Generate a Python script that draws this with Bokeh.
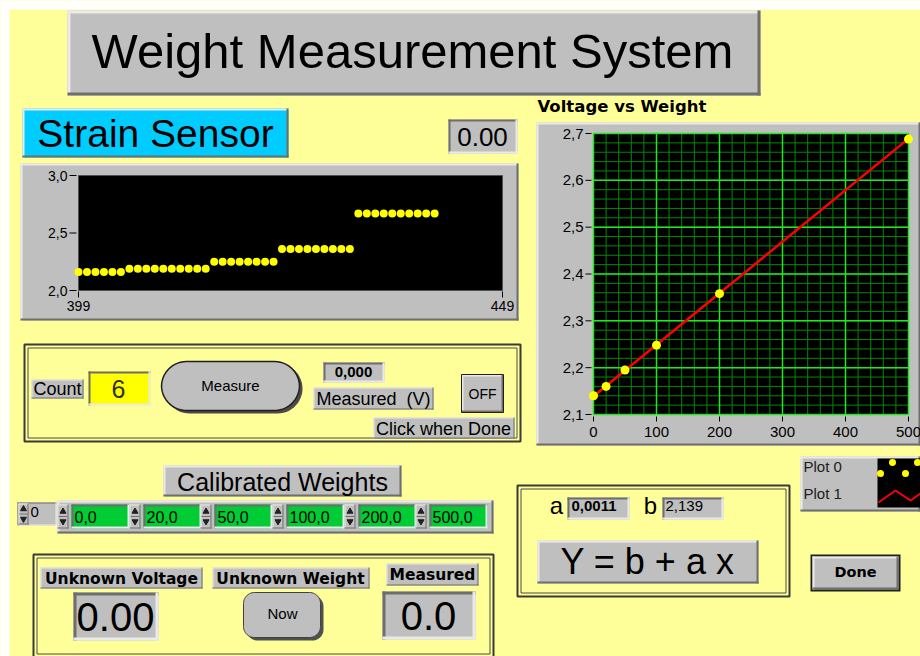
import numpy as np
from bokeh.plotting import figure
from bokeh.models import Range1d
from bokeh.core.properties import value
from bokeh.embed import file_html
from bokeh.resources import INLINE

# ---------------- data ----------------
strain_sample = [399, 400, 401, 402, 403, 404,
                 405, 406, 407, 408, 409, 410, 411, 412, 413, 414,
                 415, 416, 417, 418, 419, 420, 421, 422,
                 423, 424, 425, 426, 427, 428, 429, 430, 431,
                 432, 433, 434, 435, 436, 437, 438, 439, 440, 441]
strain_volts = [2.16, 2.16, 2.16, 2.16, 2.16, 2.16,
                2.19, 2.19, 2.19, 2.19, 2.19, 2.19, 2.19, 2.19, 2.19, 2.19,
                2.25, 2.25, 2.25, 2.25, 2.25, 2.25, 2.25, 2.25,
                2.36, 2.36, 2.36, 2.36, 2.36, 2.36, 2.36, 2.36, 2.36,
                2.67, 2.67, 2.67, 2.67, 2.67, 2.67, 2.67, 2.67, 2.67, 2.67]
strain_xticks = [399, 449]
strain_xlabels = ["399", "449"]
strain_yticks = [2.0, 2.5, 3.0]
strain_ylabels = ["2,0", "2,5", "3,0"]

calib_weights = [0, 20, 50, 100, 200, 500]
calib_volts = [2.14, 2.16, 2.195, 2.248, 2.358, 2.688]
fit_weights = [0, 500]
fit_volts = [2.139, 2.689]
vw_xticks = [0, 100, 200, 300, 400, 500]
vw_xlabels = ["0", "100", "200", "300", "400", "500"]
vw_yticks = [2.1, 2.2, 2.3, 2.4, 2.5, 2.6, 2.7]
vw_ylabels = ["2,1", "2,2", "2,3", "2,4", "2,5", "2,6", "2,7"]
vw_xminor = [0, 20, 40, 60, 80, 100, 120, 140, 160, 180, 200, 220, 240, 260,
             280, 300, 320, 340, 360, 380, 400, 420, 440, 460, 480, 500]
vw_yminor = [2.1, 2.12, 2.14, 2.16, 2.18, 2.2, 2.22, 2.24, 2.26, 2.28, 2.3,
             2.32, 2.34, 2.36, 2.38, 2.4, 2.42, 2.44, 2.46, 2.48, 2.5, 2.52,
             2.54, 2.56, 2.58, 2.6, 2.62, 2.64, 2.66, 2.68, 2.7]

weight_labels = ["0,0", "20,0", "50,0", "100,0", "200,0", "500,0"]
coef_a = "0,0011"
coef_b = "2,139"
count_value = "6"

# ---------------- style ----------------
BG = "#FFFF99"
GRAY = "#BFBFBF"
LIGHT = "#EAEAEA"
DARK = "#6E6E6E"
CYAN = "#00CCFF"
GREEN = "#00CC33"
SANS = "Liberation Sans"
BOLD = "DejaVu Sans"

W, H = 920, 656
FX0, FX1, FY0, FY1 = 0, 920, 0, 656

p = figure(width=W, height=H, x_range=Range1d(FX0, FX1), y_range=Range1d(FY1, FY0),
           output_backend="svg", toolbar_location=None, x_axis_location=None,
           y_axis_location=None, min_border=0, background_fill_color=BG,
           border_fill_color=BG, outline_line_color=None, title=None)
p.grid.visible = False


def xr(d0, d1, p0, p1):
    k = (p1 - p0) / (d1 - d0)
    s = d0 - (p0 - FX0) / k
    return Range1d(s, s + W / k)


def yr(d0, d1, p0, p1):
    k = (p0 - p1) / (d1 - d0)
    s = d0 - (FY1 - p0) / k
    return Range1d(s, s + H / k)


p.extra_x_ranges = {"sx": xr(399, 449, 78, 502), "wx": xr(0, 500, 593, 908)}
p.extra_y_ranges = {"sy": yr(2.0, 3.0, 290, 175), "vy": yr(2.1, 2.7, 414, 133)}

# white page edge as in the reference
p.quad(left=[0, 0], right=[920, 9], top=[0, 0], bottom=[9, 656], fill_color="white",
       line_color=None)


def box(x0, y0, x1, y1, fill=GRAY, style="raised", w=2, outline=None):
    p.quad(left=[x0], right=[x1], top=[y0], bottom=[y1], fill_color=fill, line_color=None)
    if style:
        lt, dk = (LIGHT, DARK) if style == "raised" else (DARK, LIGHT)
        h = w / 2
        p.segment(x0=[x0, x0 + h], y0=[y0 + h, y0], x1=[x1, x0 + h], y1=[y0 + h, y1],
                  line_color=lt, line_width=w)
        p.segment(x0=[x0, x1 - h], y0=[y1 - h, y0], x1=[x1, x1 - h], y1=[y1 - h, y1],
                  line_color=dk, line_width=w)
    if outline:
        p.quad(left=[x0], right=[x1], top=[y0], bottom=[y1], fill_color=None,
               line_color=outline, line_width=1)


def frame(x0, y0, x1, y1):
    p.quad(left=[x0 + 1], right=[x1 - 1], top=[y0 + 1], bottom=[y1 - 1], fill_color=None,
           line_color="#3A3A3A", line_width=2)
    p.quad(left=[x0 + 4.5], right=[x1 - 4.5], top=[y0 + 4.5], bottom=[y1 - 4.5],
           fill_color=None, line_color="#4A4A4A", line_width=1)


def txt(x, y, s, size, align="center", font=SANS, bold=False, color="black"):
    p.text(x=[x], y=[y], text=[s], text_font=value(font), text_font_size=f"{size}px",
           text_font_style="bold" if bold else "normal", text_align=align,
           text_baseline="middle", text_color=color)


def rounded(x0, y0, x1, y1, r, fill, line, lw=1.5):
    xs, ys = [], []
    for cx, cy, a0 in [(x0 + r, y0 + r, 180), (x1 - r, y0 + r, 270),
                       (x1 - r, y1 - r, 0), (x0 + r, y1 - r, 90)]:
        t = np.radians(np.linspace(a0, a0 + 90, 14))
        xs.extend(cx + r * np.cos(t))
        ys.extend(cy + r * np.sin(t))
    p.patch(x=xs, y=ys, fill_color=fill, line_color=line, line_width=lw)


def spinner(x0, y0, x1, y1):
    box(x0, y0, x1, y1, GRAY, "raised", 1)
    cx = (x0 + x1) / 2
    ym = (y0 + y1) / 2
    p.scatter(x=[cx], y=[ym - 5], marker="triangle", size=6, color="#202020")
    p.scatter(x=[cx], y=[ym + 5], marker="inverted_triangle", size=6, color="#202020")
    p.segment(x0=[x0 + 1], y0=[ym], x1=[x1 - 1], y1=[ym], line_color=DARK)


# ---------------- title ----------------
box(67, 10, 760, 95, GRAY, "raised", 3)
txt(412, 50, "Weight Measurement System", 49)

# ---------------- strain sensor ----------------
box(22, 108, 288, 157, CYAN, "raised", 2)
txt(155, 133, "Strain Sensor", 39)
box(448, 119, 517, 153, GRAY, "sunken", 2)
txt(482, 136, "0.00", 26)

box(20, 163, 518, 320, GRAY, "raised", 2)
p.quad(left=[78], right=[502], top=[175], bottom=[290], fill_color="black",
       line_color="#505050", line_width=1)
p.scatter(x=strain_sample, y=strain_volts, x_range_name="sx", y_range_name="sy",
          size=8, color="#FFFF00", line_color=None)
p.segment(x0=69, x1=76, y0=strain_yticks, y1=strain_yticks, y_range_name="sy",
          line_color="black", line_width=1)
p.text(x=67, y=strain_yticks, text=strain_ylabels, y_range_name="sy",
       text_font=value(SANS), text_font_size="14px", text_align="right",
       text_baseline="middle", text_color="black")
p.segment(x0=strain_xticks, x1=strain_xticks, y0=291, y1=297, x_range_name="sx",
          line_color="black", line_width=1)
p.text(x=strain_xticks, y=305, text=strain_xlabels, x_range_name="sx",
       text_font=value(SANS), text_font_size="14px", text_align="center",
       text_baseline="middle", text_color="black")

# ---------------- measure controls ----------------
frame(23, 343, 521, 442)
box(31, 379, 83, 398, GRAY, "raised", 1)
txt(57, 388, "Count", 18)
box(88, 371, 150, 405, "#FFFF00", "sunken", 2)
txt(118, 388, count_value, 25, color="#303030")
rounded(164, 363, 302, 413, 25, "#4A4A4A", None, 0)
rounded(161, 361, 299, 410, 25, GRAY, "#202020", 1.5)
txt(230, 385, "Measure", 15)
box(323, 362, 384, 382, GRAY, "sunken", 2)
txt(353, 371, "0,000", 15, bold=True)
box(313, 387, 433, 409, GRAY, "raised", 1)
txt(373, 398, "Measured \u00a0(V)", 18)
box(461, 374, 503, 412, GRAY, "raised", 2, outline="#202020")
txt(482, 393, "OFF", 14)
box(373, 417, 514, 438, GRAY, "raised", 1)
txt(443, 428, "Click when Done", 18)

# ---------------- calibrated weights ----------------
box(163, 465, 401, 496, GRAY, "raised", 2)
txt(282, 481, "Calibrated Weights", 25)
box(17, 502, 56, 525, GRAY, "sunken", 1)
spinner(18, 503, 28, 524)
txt(30, 511, "0", 15, align="left")
box(57, 500, 493, 533, GRAY, "raised", 2)
green_left = [71, 143, 214, 286, 358, 429]
for gl, lab in zip(green_left, weight_labels):
    spinner(gl - 14, 504, gl - 3, 528)
    box(gl, 504, gl + 58, 528, GREEN, "sunken", 2)
    txt(gl + 3, 516, lab, 16, align="left")

# ---------------- voltage vs weight chart ----------------
txt(537, 106, "Voltage vs Weight", 16.5, align="left", font=BOLD, bold=True)
box(536, 122, 920, 445, GRAY, "raised", 2)
p.quad(left=[593], right=[908], top=[133], bottom=[414], fill_color="black", line_color=None)
p.segment(x0=vw_xminor, x1=vw_xminor, y0=2.1, y1=2.7, x_range_name="wx", y_range_name="vy",
          line_color="#008A00", line_width=1)
p.segment(x0=0, x1=500, y0=vw_yminor, y1=vw_yminor, x_range_name="wx", y_range_name="vy",
          line_color="#008A00", line_width=1)
p.segment(x0=vw_xticks, x1=vw_xticks, y0=2.1, y1=2.7, x_range_name="wx", y_range_name="vy",
          line_color="#22E622", line_width=1.5)
p.segment(x0=0, x1=500, y0=vw_yticks, y1=vw_yticks, x_range_name="wx", y_range_name="vy",
          line_color="#22E622", line_width=1.5)
p.line(x=fit_weights, y=fit_volts, x_range_name="wx", y_range_name="vy",
       line_color="#FF0000", line_width=2.5)
p.scatter(x=calib_weights, y=calib_volts, x_range_name="wx", y_range_name="vy",
          size=9, color="#FFFF00", line_color=None)
p.segment(x0=585, x1=591, y0=vw_yticks, y1=vw_yticks, y_range_name="vy",
          line_color="black", line_width=1)
p.text(x=583, y=vw_yticks, text=vw_ylabels, y_range_name="vy",
       text_font=value(SANS), text_font_size="15px", text_align="right",
       text_baseline="middle", text_color="black")
p.segment(x0=vw_xticks, x1=vw_xticks, y0=416, y1=421, x_range_name="wx",
          line_color="black", line_width=1)
p.text(x=vw_xticks, y=431, text=vw_xlabels, x_range_name="wx",
       text_font=value(SANS), text_font_size="15px", text_align="center",
       text_baseline="middle", text_color="black")

# legend
box(800, 456, 920, 511, GRAY, "raised", 2)
p.quad(left=[877], right=[920], top=[458], bottom=[507], fill_color="black", line_color=None)
txt(803, 466, "Plot 0", 15, align="left", color="#202020")
txt(803, 493, "Plot 1", 15, align="left", color="#202020")
p.scatter(x=[892, 880, 905, 917], y=[462, 473, 473, 462], size=7, color="#FFFF00",
          line_color=None)
p.line(x=[878, 895, 910, 920], y=[502, 490, 500, 493], line_color="#FF0000", line_width=2)

# ---------------- equation ----------------
frame(516, 484, 790, 597)
txt(556, 505, "a", 24)
box(567, 497, 629, 519, GRAY, "sunken", 2)
txt(571, 505, coef_a, 15, align="left", bold=True)
txt(650, 505, "b", 24)
box(662, 497, 723, 519, GRAY, "sunken", 2)
txt(665, 505, coef_b, 15, align="left")
box(537, 540, 758, 583, GRAY, "raised", 2)
txt(647, 561, "Y = b + a x", 36)

# done button
p.quad(left=[810], right=[900], top=[554], bottom=[591], fill_color="#202020", line_color=None)
box(812, 556, 898, 589, GRAY, "raised", 2)
txt(855, 571, "Done", 14.5, font=BOLD, bold=True)

# ---------------- unknown measurement ----------------
frame(32, 553, 494, 658)
box(40, 567, 202, 588, GRAY, "raised", 1)
txt(121, 578, "Unknown Voltage", 15.5, font=BOLD, bold=True)
box(212, 567, 369, 588, GRAY, "raised", 1)
txt(290, 578, "Unknown Weight", 15.5, font=BOLD, bold=True)
box(386, 563, 478, 585, GRAY, "raised", 1)
txt(432, 574, "Measured", 15.5, font=BOLD, bold=True)
box(73, 592, 158, 640, GRAY, "sunken", 3)
txt(115, 616, "0.00", 40)
rounded(246, 595, 323, 640, 11, "#505050", None, 0)
rounded(243, 592, 320, 637, 11, GRAY, "#404040", 1)
txt(282, 613, "Now", 15)
box(382, 591, 475, 639, GRAY, "sunken", 3)
txt(428, 615, "0.0", 40)

open("out.html", "w").write(file_html(p, INLINE))
